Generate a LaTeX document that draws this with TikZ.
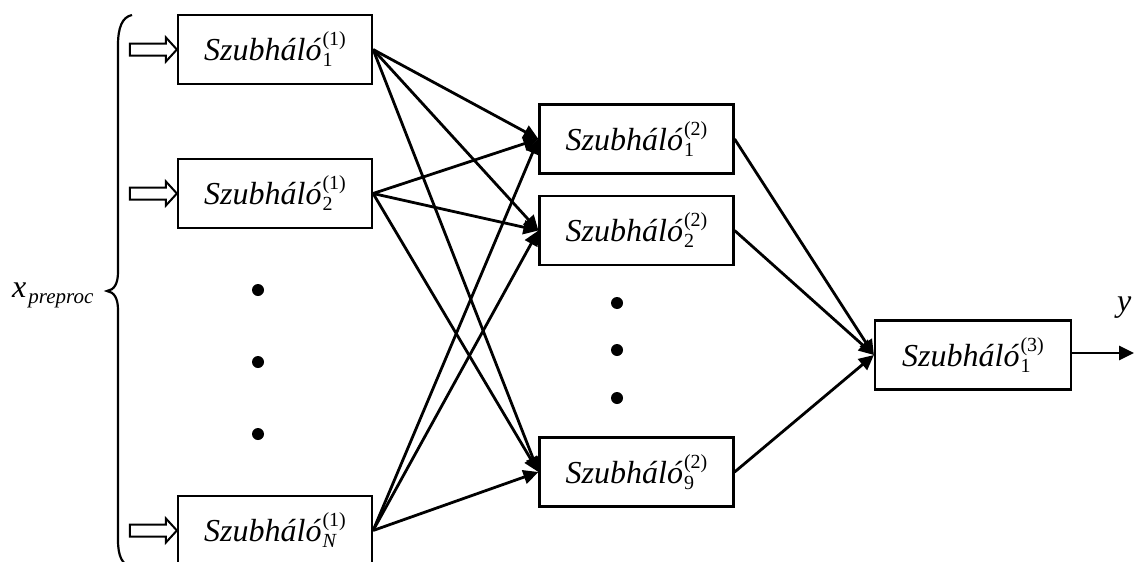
\documentclass[tikz,border=0pt]{standalone}
\usepackage{fontspec}
\setmainfont{Liberation Serif}[ItalicFont={Liberation Serif Italic}]
\usetikzlibrary{arrows.meta,calc}

% font sizes for the block labels
\newcommand\mainfs{\fontsize{32}{38}\selectfont}
\newcommand\smallfs{\fontsize{20}{24}\selectfont}
% subnetwork label: #1 = index (subscript), #2 = layer (superscript)
\newcommand\szh[2]{\textit{Szubháló}\kern1pt\rlap{\raisebox{-6pt}{\smallfs #1}}\raisebox{15pt}{\smallfs (#2)}}
% hollow input arrow ending at the west side of a block
\newcommand\inarrow[1]{%
  \draw[hollow] ($(#1.west)+(-47,-6)$) -- ++(36,0) -- ++(0,-6) -- (#1.west)
    -- ++(-11,12) -- ++(0,-6) -- ++(-36,0) -- cycle;}

\begin{document}
\begin{tikzpicture}[x=1pt,y=-1pt,
  block/.style={draw, line width=2.2pt, minimum width=194pt, minimum height=69pt,
                inner sep=0pt, font=\mainfs},
  conn/.style={line width=2.8pt, -{Triangle[length=15pt,width=14pt]}},
  hollow/.style={line width=2pt, line join=miter},
  dot/.style={fill=black}]

\useasboundingbox (0,0) rectangle (1135,562);

% first layer
\node[block] (a1) at (275,49.5)  {\szh{1}{1}};
\node[block] (a2) at (275,193.5) {\szh{2}{1}};
\node[block] (aN) at (275,530.5) {\szh{\textit{N}}{1}};

% second layer
\node[block] (b1) at (636.5,139)   {\szh{1}{2}};
\node[block] (b2) at (636.5,230.5) {\szh{2}{2}};
\node[block] (b9) at (636.5,472)   {\szh{9}{2}};

% output layer
\node[block, minimum width=196pt] (c1) at (973,355) {\szh{1}{3}};

% elided blocks
\fill[dot] (258,290) circle (6);
\fill[dot] (258,362) circle (6);
\fill[dot] (258,434) circle (6);
\fill[dot] (617,303) circle (6);
\fill[dot] (617,350) circle (6);
\fill[dot] (617,398) circle (6);

% inputs
\inarrow{a1}
\inarrow{a2}
\inarrow{aN}

% brace grouping the inputs
\draw[line width=2.2pt] (132,15) .. controls (122,17) and (118,28) .. (118,45)
  -- (118,272) .. controls (118,284) and (114,290) .. (107,291)
  .. controls (114,292) and (118,298) .. (118,310)
  -- (118,540) .. controls (118,556) and (122,565) .. (132,567);

\node[anchor=base west, inner sep=0pt] (xlab) at (12,297)
  {\mainfs\textit{x}\kern2pt\raisebox{-6pt}{\fontsize{21}{24}\selectfont\textit{preproc}}};

% full connections between layer 1 and layer 2
\foreach \s in {a1,a2,aN}
  \foreach \t in {b1,b2,b9}
    \draw[conn] (\s.east) -- (\t.west);

% layer 2 to output block
\foreach \s in {b1,b2,b9}
  \draw[conn] (\s.east) -- (c1.west);

% output
\coordinate (yout) at (1134,353);
\draw[conn] (c1.east |- yout) -- (yout);
\node[anchor=base west, inner sep=0pt] (ylab) at (1117,311) {\mainfs\textit{y}};

\end{tikzpicture}
\end{document}
